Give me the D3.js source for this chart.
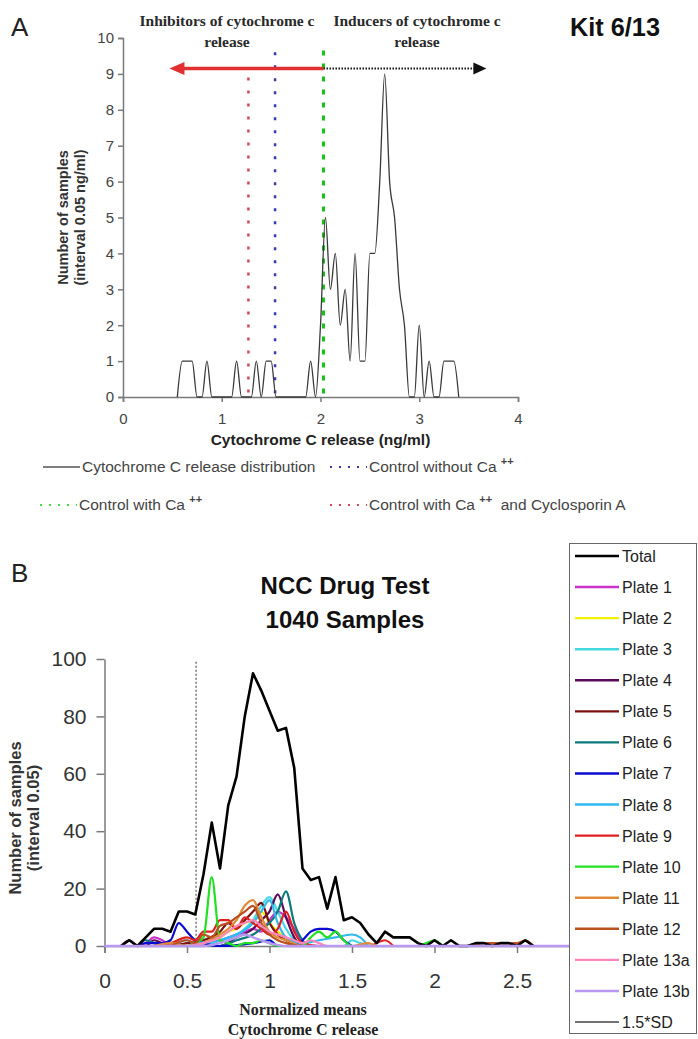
<!DOCTYPE html>
<meta charset="utf-8">
<style>
    body { margin: 0; background: #fff; }
    svg { display: block; }
    text { white-space: pre; }
</style>
<script src="https://cdn.jsdelivr.net/npm/d3@7"></script>
<body>
<script>
    // ---- panel A : kit 6/13 distribution ----
    var aBins = [0.55, 0.60, 0.65, 0.70, 0.75, 0.80, 0.85, 0.90, 0.95, 1.00, 1.05, 1.10, 1.15, 1.20, 1.25,
        1.30, 1.35, 1.40, 1.45, 1.50, 1.55, 1.60, 1.65, 1.70, 1.75, 1.80, 1.85, 1.90, 1.95, 2.00,
        2.05, 2.10, 2.15, 2.20, 2.25, 2.30, 2.35, 2.40, 2.45, 2.50, 2.55, 2.60, 2.65, 2.70, 2.75,
        2.80, 2.85, 2.90, 2.95, 3.00, 3.05, 3.10, 3.15, 3.20, 3.25, 3.30, 3.35, 3.40];
    var aCounts = [0, 1, 1, 1, 0, 0, 1, 0, 0, 0, 0, 0, 1, 0, 0,
        0, 1, 0, 1, 1, 0, 0, 0, 0, 0, 0, 0, 1, 0, 2,
        5, 3, 4, 2, 3, 1, 4, 1, 1, 4, 4, 6, 9, 6, 5,
        3, 2, 0, 0, 2, 0, 1, 0, 0, 1, 1, 1, 0];
    var aControls = [
        { name: "Control with Ca ++  and Cyclosporin A", value: 1.27, color: "#d2485a", top: 8.9 },
        { name: "Control without Ca ++", value: 1.54, color: "#3a3aa8", top: 9.6 },
        { name: "Control with Ca ++", value: 2.03, color: "#18c018", top: 9.65 }
    ];
    var aArrowY = 9.15, aInhibitTip = 0.47, aInduceTip = 3.68;
    var aXTicks = [0, 1, 2, 3, 4];
    var aYTicks = [0, 1, 2, 3, 4, 5, 6, 7, 8, 9, 10];

    // ---- panel B : NCC drug test ----
    var bTotalX = [0.10, 0.15, 0.20, 0.25, 0.30, 0.35, 0.40, 0.45, 0.50, 0.55, 0.60, 0.65, 0.70, 0.75, 0.80,
        0.85, 0.90, 0.95, 1.00, 1.05, 1.10, 1.15, 1.20, 1.25, 1.30, 1.35, 1.40, 1.45, 1.50, 1.55,
        1.60, 1.65, 1.70, 1.75, 1.80, 1.85, 1.90, 1.95, 2.00, 2.05, 2.10, 2.15, 2.20, 2.25, 2.30,
        2.35, 2.40, 2.45, 2.50, 2.55, 2.60];
    var bTotal = [0, 2, 0, 3, 6, 6, 5, 12, 12, 11, 25, 43, 27, 49, 59,
        80, 95, 89, 82, 75, 76, 62, 27, 23, 24, 13, 24, 9, 10, 8,
        4, 1, 5, 3, 3, 3, 1, 0, 2, 0, 2, 0, 0, 1, 1,
        0, 1, 1, 0, 2, 0];
    var plateNames = ["Plate 1", "Plate 2", "Plate 3", "Plate 4", "Plate 5", "Plate 6", "Plate 7", "Plate 8",
        "Plate 9", "Plate 10", "Plate 11", "Plate 12", "Plate 13a", "Plate 13b"];
    var plateColors = ["#cc33cc", "#f2f200", "#44d8e0", "#5a0a5a", "#7a1010", "#0c7a7a", "#0a0ad0", "#30b8f0",
        "#e02020", "#22e022", "#e08a38", "#b85020", "#ff85bb", "#b898f0"];
    var plateData = [
        [[0.1, 0], [0.2, 0], [0.25, 1], [0.3, 3], [0.35, 2], [0.4, 0], [0.6, 0], [0.7, 2], [0.8, 4], [0.85, 5], [0.9, 6], [0.95, 5], [1.0, 9], [1.05, 12], [1.1, 10], [1.15, 6], [1.2, 1], [1.25, 0], [1.5, 0]],
        [[0.5, 0], [0.6, 1], [0.7, 3], [0.75, 5], [0.8, 6], [0.85, 8], [0.9, 9], [0.95, 12], [1.0, 8], [1.05, 5], [1.1, 3], [1.15, 1], [1.2, 0], [1.6, 0]],
        [[0.6, 0], [0.7, 2], [0.8, 4], [0.85, 6], [0.9, 9], [0.95, 14], [1.0, 17], [1.05, 12], [1.1, 6], [1.15, 2], [1.2, 0], [1.45, 0], [1.5, 2], [1.55, 1], [1.6, 0]],
        [[0.1, 0], [0.15, 2], [0.2, 0], [0.25, 0], [0.3, 2], [0.35, 1], [0.4, 0], [0.7, 0], [0.8, 3], [0.9, 6], [0.95, 9], [1.0, 12], [1.05, 18], [1.1, 10], [1.15, 3], [1.2, 0], [1.5, 0]],
        [[0.4, 0], [0.5, 1], [0.6, 2], [0.7, 5], [0.75, 8], [0.8, 6], [0.85, 9], [0.9, 12], [0.95, 15], [1.0, 8], [1.05, 4], [1.1, 2], [1.2, 0], [1.5, 0]],
        [[0.2, 0], [0.25, 2], [0.3, 1], [0.35, 0], [0.7, 0], [0.8, 2], [0.9, 4], [0.95, 6], [1.0, 8], [1.05, 12], [1.1, 19], [1.15, 8], [1.2, 2], [1.25, 0], [1.5, 0]],
        [[0.2, 0], [0.25, 1], [0.3, 1], [0.35, 1], [0.4, 2], [0.45, 8], [0.5, 5], [0.55, 2], [0.6, 1], [0.7, 0], [0.9, 1], [1.0, 2], [1.05, 0], [1.15, 0], [1.2, 2], [1.25, 5], [1.3, 6], [1.35, 6], [1.4, 5], [1.45, 2], [1.5, 0]],
        [[0.4, 0], [0.5, 2], [0.55, 1], [0.7, 2], [0.8, 4], [0.9, 8], [0.95, 12], [1.0, 16], [1.05, 8], [1.1, 3], [1.2, 1], [1.3, 2], [1.4, 3], [1.5, 4], [1.55, 3], [1.6, 0]],
        [[0.3, 0], [0.4, 1], [0.5, 3], [0.55, 2], [0.6, 5], [0.65, 5], [0.7, 9], [0.75, 9], [0.8, 6], [0.85, 10], [0.9, 8], [0.95, 6], [1.0, 4], [1.05, 6], [1.1, 12], [1.15, 5], [1.2, 1], [1.3, 0], [1.6, 0], [1.7, 2], [1.75, 0]],
        [[0.5, 0], [0.55, 1], [0.6, 3], [0.65, 24], [0.7, 2], [0.75, 1], [0.8, 0], [0.85, 1], [0.9, 1], [0.95, 2], [1.0, 1], [1.05, 0], [1.2, 0], [1.25, 3], [1.3, 5], [1.35, 3], [1.4, 5], [1.45, 2], [1.5, 0], [1.9, 0], [1.95, 1], [2.0, 2], [2.05, 0]],
        [[0.3, 0], [0.4, 1], [0.5, 0], [0.6, 1], [0.7, 4], [0.75, 6], [0.8, 9], [0.85, 14], [0.9, 16], [0.95, 10], [1.0, 5], [1.05, 3], [1.1, 2], [1.2, 0], [1.5, 0], [1.6, 1], [1.65, 0], [2.3, 0], [2.35, 1], [2.45, 1], [2.5, 0]],
        [[0.4, 0], [0.5, 2], [0.55, 1], [0.6, 4], [0.65, 3], [0.7, 7], [0.75, 8], [0.8, 10], [0.85, 12], [0.9, 14], [0.95, 8], [1.0, 4], [1.05, 2], [1.1, 1], [1.2, 0], [2.2, 0], [2.3, 1], [2.35, 1], [2.45, 1], [2.5, 1], [2.55, 2], [2.6, 0]],
        [[0.5, 0], [0.6, 1], [0.7, 3], [0.75, 5], [0.8, 7], [0.85, 8], [0.9, 9], [0.95, 7], [1.0, 5], [1.05, 4], [1.1, 3], [1.15, 2], [1.2, 1], [1.25, 2], [1.3, 1], [1.35, 0], [1.7, 0]],
        [[0.0, 0], [0.6, 0], [0.7, 1], [0.8, 3], [0.85, 4], [0.9, 3], [1.0, 1], [1.1, 0], [3.0, 0]]
    ];
    var bCutoff = 0.555; // 1.5*SD
    var bXTicks = [0, 0.5, 1, 1.5, 2, 2.5, 3];
    var bYTicks = [0, 20, 40, 60, 80, 100];

    var sans = "'Liberation Sans', Arial, sans-serif";
    var serif = "'Liberation Serif', 'Times New Roman', serif";

    var svg = d3.select("body").append("svg")
        .attr("width", 698)
        .attr("height", 1039);

    function styleAxis(g, size, color) {
        g.select(".domain").attr("stroke", "#7a7a7a").attr("stroke-width", 1.5);
        g.selectAll(".tick line").attr("stroke", "#7a7a7a").attr("stroke-width", 1.5);
        g.selectAll(".tick text").attr("fill", color).style("font-family", sans).style("font-size", size + "px");
    }

    // ================= Panel A =================
    var xA = d3.scaleLinear().domain([0, 4]).range([123, 518]);
    var yA = d3.scaleLinear().domain([0, 10]).range([397, 38]);

    svg.append("text").attr("x", 11).attr("y", 36).text("A")
        .style("font-family", sans).style("font-size", "26px").attr("fill", "#222");
    svg.append("text").attr("x", 570).attr("y", 36).text("Kit 6/13")
        .style("font-family", "'Liberation Sans Narrow', " + sans).style("font-size", "26px")
        .style("font-weight", "bold").attr("fill", "#111").attr("textLength", 90).attr("lengthAdjust", "spacingAndGlyphs");

    var gAx = svg.append("g").attr("transform", "translate(0," + yA(0) + ")")
        .call(d3.axisBottom(xA).tickValues(aXTicks).tickSize(5).tickPadding(11).tickFormat(d3.format("d")));
    styleAxis(gAx, 15, "#444");
    var gAy = svg.append("g").attr("transform", "translate(" + xA(0) + ",0)")
        .call(d3.axisLeft(yA).tickValues(aYTicks).tickSize(5).tickPadding(4).tickFormat(d3.format("d")));
    styleAxis(gAy, 15, "#444");

    // headers over the arrows
    var headers = [
        { lines: ["Inhibitors of cytochrome c", "release"], x: 227 },
        { lines: ["Inducers of cytochrome c", "release"], x: 417 }
    ];
    headers.forEach(function (h) {
        h.lines.forEach(function (l, i) {
            svg.append("text").attr("x", h.x).attr("y", 26 + i * 21).attr("text-anchor", "middle")
                .text(l).style("font-family", serif).style("font-size", "15.5px")
                .style("font-weight", "bold").attr("fill", "#2a2a2a");
        });
    });

    // control lines
    svg.selectAll(".ctrl").data(aControls).enter().append("line")
        .attr("class", "ctrl")
        .attr("x1", function (d) { return xA(d.value); })
        .attr("x2", function (d) { return xA(d.value); })
        .attr("y1", function (d) { return yA(d.top); })
        .attr("y2", yA(0))
        .attr("stroke", function (d) { return d.color; })
        .attr("stroke-width", function (d) { return d.value > 2 ? 3 : 2.5; })
        .attr("stroke-dasharray", function (d) { return d.value > 2 ? "5,8" : "3,10"; });

    // arrows
    var ax0 = xA(aControls[2].value), ay = yA(aArrowY);
    svg.append("line").attr("x1", ax0).attr("x2", xA(aInhibitTip) + 10).attr("y1", ay).attr("y2", ay)
        .attr("stroke", "#e03030").attr("stroke-width", 3.5);
    svg.append("path")
        .attr("d", "M" + xA(aInhibitTip) + "," + ay + "l15,-6.5l0,13z").attr("fill", "#e03030");
    svg.append("line").attr("x1", ax0).attr("x2", xA(aInduceTip) - 10).attr("y1", ay).attr("y2", ay)
        .attr("stroke", "#111").attr("stroke-width", 2).attr("stroke-dasharray", "1.5,1.5");
    svg.append("path")
        .attr("d", "M" + xA(aInduceTip) + "," + ay + "l-13,-6l0,12z").attr("fill", "#111");

    var lineA = d3.line()
        .x(function (d, i) { return xA(aBins[i]); })
        .y(function (d) { return yA(d); })
        .curve(d3.curveMonotoneX);
    svg.append("path").datum(aCounts).attr("d", lineA)
        .attr("fill", "none").attr("stroke", "#3a3a3a").attr("stroke-width", 1.3);

    svg.append("text").attr("x", (xA(0) + xA(4)) / 2).attr("y", 445).attr("text-anchor", "middle")
        .text("Cytochrome C release (ng/ml)")
        .style("font-family", sans).style("font-size", "15.5px").style("font-weight", "bold").attr("fill", "#222");

    ["Number of samples", "(interval 0.05 ng/ml)"].forEach(function (t, i) {
        svg.append("text").attr("transform", "translate(" + (68 + i * 17) + "," + (yA(5)) + ") rotate(-90)")
            .attr("text-anchor", "middle").text(t)
            .style("font-family", sans).style("font-size", "14.5px").style("font-weight", "bold").attr("fill", "#333");
    });

    // legend A
    var legA = [
        { label: ["Cytochrome C release distribution"], x: 43, y: 467, color: "#555", dash: null },
        { label: ["Control without Ca ", "++"], x: 330, y: 467, color: aControls[1].color, dash: "2,7" },
        { label: ["Control with Ca ", "++"], x: 40, y: 505, color: "#40e040", dash: "2,7" },
        { label: ["Control with Ca ", "++", "  and Cyclosporin A"], x: 330, y: 505, color: aControls[0].color, dash: "2,7" }
    ];
    legA.forEach(function (d) {
        svg.append("line").attr("x1", d.x).attr("x2", d.x + 37).attr("y1", d.y).attr("y2", d.y)
            .attr("stroke", d.color).attr("stroke-width", d.dash ? 2 : 1.3)
            .attr("stroke-dasharray", d.dash);
        var t = svg.append("text").attr("x", d.x + 39).attr("y", d.y + 5)
            .style("font-family", sans).style("font-size", "15.5px").attr("fill", "#444");
        d.label.forEach(function (s, i) {
            var sp = t.append("tspan").text(s);
            if (i === 1) sp.attr("dy", -7).style("font-size", "11px").style("font-weight", "bold");
            if (i === 2) sp.attr("dy", 7);
        });
    });

    // ================= Panel B =================
    var xB = d3.scaleLinear().domain([0, 3]).range([104.5, 599.5]);
    var yB = d3.scaleLinear().domain([0, 100]).range([946, 659]);

    svg.append("text").attr("x", 11).attr("y", 582).text("B")
        .style("font-family", sans).style("font-size", "26px").attr("fill", "#222");
    ["NCC Drug Test", "1040 Samples"].forEach(function (t, i) {
        svg.append("text").attr("x", 345).attr("y", 594 + i * 34).attr("text-anchor", "middle").text(t)
            .style("font-family", sans).style("font-size", "24px").style("font-weight", "bold").attr("fill", "#111");
    });

    var gBx = svg.append("g").attr("transform", "translate(0," + yB(0) + ")")
        .call(d3.axisBottom(xB).tickValues(bXTicks).tickSize(7).tickPadding(20).tickFormat(d3.format("~g")));
    styleAxis(gBx, 21, "#333");
    var gBy = svg.append("g").attr("transform", "translate(" + xB(0) + ",0)")
        .call(d3.axisLeft(yB).tickValues(bYTicks).tickSize(8).tickPadding(10).tickSizeOuter(0));
    styleAxis(gBy, 21, "#333");

    svg.append("line").attr("x1", xB(bCutoff)).attr("x2", xB(bCutoff)).attr("y1", yB(99)).attr("y2", yB(0))
        .attr("stroke", "#555").attr("stroke-width", 1.2).attr("stroke-dasharray", "2,2");

    var lineB = d3.line()
        .x(function (d) { return xB(d[0]); })
        .y(function (d) { return yB(d[1]); })
        .curve(d3.curveMonotoneX);

    plateData.forEach(function (pts, i) {
        if (i === 13) return;
        svg.append("path").datum(pts).attr("d", lineB)
            .attr("fill", "none").attr("stroke", plateColors[i]).attr("stroke-width", 2.2);
    });
    svg.append("path").datum(bTotal.map(function (v, i) { return [bTotalX[i], v]; }))
        .attr("d", d3.line().x(function (d) { return xB(d[0]); }).y(function (d) { return yB(d[1]); }))
        .attr("fill", "none").attr("stroke", "#000").attr("stroke-width", 2.6).attr("stroke-linejoin", "round");
    svg.append("path").datum(plateData[13]).attr("d", lineB)
        .attr("fill", "none").attr("stroke", plateColors[13]).attr("stroke-width", 2.4);

    ["Normalized means", "Cytochrome C release"].forEach(function (t, i) {
        svg.append("text").attr("x", 303).attr("y", 1015 + i * 20).attr("text-anchor", "middle").text(t)
            .style("font-family", serif).style("font-size", "16px").style("font-weight", "bold").attr("fill", "#222");
    });
    ["Number of samples", "(interval 0.05)"].forEach(function (t, i) {
        svg.append("text").attr("transform", "translate(" + (21 + i * 18) + ",818) rotate(-90)")
            .attr("text-anchor", "middle").text(t)
            .style("font-family", sans).style("font-size", "16.5px").style("font-weight", "bold").attr("fill", "#333");
    });

    // legend B
    var legNames = ["Total"].concat(plateNames, ["1.5*SD"]);
    var legColors = ["#000"].concat(plateColors, ["#444"]);
    svg.append("rect").attr("x", 569.5).attr("y", 543.5).attr("width", 127).attr("height", 490)
        .attr("fill", "#fff").attr("stroke", "#666").attr("stroke-width", 1);
    var legY = d3.scalePoint().domain(legNames).range([556, 1022]);
    var li = svg.selectAll(".leg").data(legNames).enter().append("g").attr("class", "leg")
        .attr("transform", function (d) { return "translate(575," + legY(d) + ")"; });
    li.append("line").attr("x1", 0).attr("x2", 44)
        .attr("stroke", function (d, i) { return legColors[i]; })
        .attr("stroke-width", function (d, i) { return i === 0 ? 2.6 : (i === 15 ? 1.3 : 2.4); });
    li.append("text").attr("x", 47).attr("y", 6).text(function (d) { return d; })
        .style("font-family", sans).style("font-size", "16px").attr("fill", "#222");
</script>
</body>
